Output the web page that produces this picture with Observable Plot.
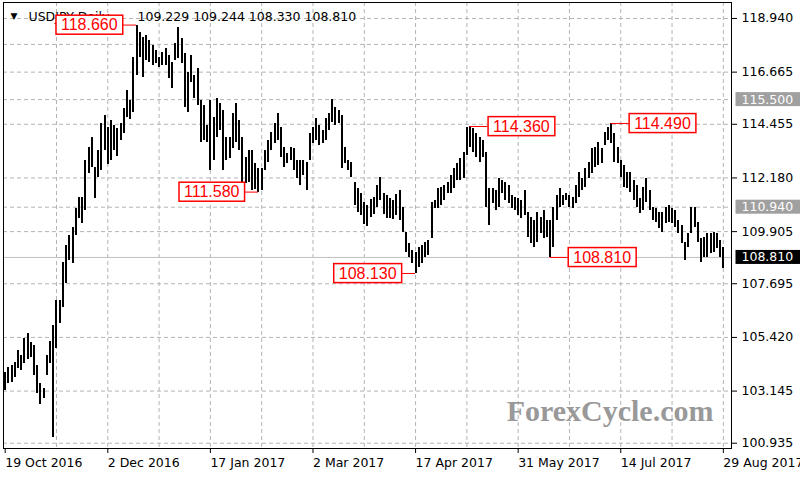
<!DOCTYPE html>
<html><head><meta charset="utf-8">
<script src="https://cdn.jsdelivr.net/npm/d3@7"></script>
<script src="https://cdn.jsdelivr.net/npm/@observablehq/plot@0.6"></script>
<style>
body{margin:0;background:#fff;}
#chart{position:relative;width:800px;height:480px;overflow:hidden;background:#fff;}
</style></head><body><div id="chart"></div>
<script>
const symbol = "USDJPY,Daily";
const highs = [
103.95,104.16,104.23,104.37,104.86,104.65,105.36,105.57,105.22,105.08,
104.23,103.48,103.24,104.65,105.26,105.92,106.98,106.98,108.61,109.32,
109.74,110.09,110.87,111.36,111.35,112.92,113.48,113.91,112.63,113.34,
114.49,114.82,114.32,114.61,114.40,114.27,114.49,115.12,115.89,115.46,
117.29,118.66,118.36,118.14,118.22,118.00,117.79,117.58,117.30,117.51,
117.65,117.37,117.09,117.87,118.57,118.08,117.44,116.66,117.37,116.52,
116.81,115.46,115.25,114.40,115.46,114.75,115.53,115.32,115.04,113.91,
113.91,114.90,115.32,114.61,113.91,113.06,113.34,113.34,112.78,112.57,
112.57,113.34,113.77,114.12,114.47,114.90,114.33,113.48,113.20,113.48,
113.41,112.92,112.92,112.92,112.85,114.05,114.33,114.69,114.40,114.19,
114.69,114.90,115.50,115.18,115.04,114.82,113.48,112.92,112.85,111.99,
111.73,111.52,111.14,111.01,111.27,111.35,111.86,112.20,111.52,111.44,
111.31,111.22,111.48,111.65,110.93,109.87,109.40,109.10,109.02,109.23,
109.31,109.44,109.53,111.14,111.22,111.73,111.77,111.86,111.99,112.28,
112.58,112.79,113.00,113.26,114.32,114.36,114.27,114.06,113.89,113.77,
113.26,111.73,111.73,111.65,112.16,112.07,111.99,111.86,111.44,111.35,
111.31,111.22,111.65,110.71,110.50,110.37,110.71,110.50,110.80,110.37,
110.37,110.93,111.44,111.73,111.44,111.52,111.44,111.35,111.86,112.41,
112.16,112.58,112.83,113.43,113.47,113.68,113.43,114.11,114.32,114.49,
114.06,113.47,112.92,112.71,112.41,112.41,112.07,111.86,111.31,111.77,
112.16,111.65,110.93,110.88,110.71,110.71,110.93,111.01,110.88,110.80,
110.37,110.16,109.44,109.82,110.93,110.93,110.29,109.61,109.65,109.82,
109.82,109.87,109.82,109.53,109.244];
const lows = [
103.17,103.48,103.52,103.73,104.09,104.02,104.30,104.47,104.58,103.80,
103.05,102.58,102.82,103.80,104.30,101.19,104.94,106.00,106.70,107.69,
108.68,108.54,109.74,110.45,110.25,110.80,112.35,112.63,111.29,112.21,
112.49,113.34,112.75,112.92,113.34,113.09,113.77,114.06,114.74,114.66,
114.95,116.52,117.30,116.45,117.16,117.09,116.95,117.02,116.87,116.95,
116.95,116.38,115.96,117.16,117.23,117.02,115.18,114.97,116.24,115.53,
115.25,113.69,113.77,113.68,112.49,112.92,113.91,114.19,112.49,112.92,
112.99,113.41,113.69,113.34,111.93,111.93,112.00,111.65,111.69,111.58,
111.65,112.49,112.85,113.34,113.63,113.77,113.06,112.63,112.78,112.92,
112.49,112.14,111.86,112.28,111.65,112.92,113.63,113.77,113.55,113.63,
113.77,114.19,114.54,114.40,114.47,112.57,112.78,112.49,112.21,111.01,
110.71,110.59,110.21,110.12,110.50,110.63,110.93,111.22,110.63,110.46,
110.46,110.42,110.59,110.37,109.87,109.02,108.81,108.55,108.13,108.38,
108.55,108.81,108.89,109.61,110.88,110.88,111.01,111.22,111.52,111.52,
111.73,112.07,112.07,112.16,113.13,113.47,113.26,113.05,112.83,113.05,
110.93,110.16,111.10,110.80,110.93,111.52,111.22,111.10,110.88,110.80,
110.59,110.46,110.59,109.65,109.40,109.23,109.44,109.82,109.61,109.65,
108.81,109.23,110.37,110.93,111.01,111.22,110.93,110.88,111.10,111.35,
111.65,111.77,112.16,112.37,112.62,112.71,112.79,113.55,113.77,113.64,
112.83,112.79,112.20,111.77,111.73,111.56,111.22,110.93,110.67,110.80,
111.14,110.80,110.37,110.29,110.04,109.87,110.25,110.29,110.25,110.08,
109.82,109.40,108.68,109.23,109.82,110.08,109.44,108.59,108.81,108.81,
108.98,109.02,109.19,108.81,108.33];
const lastOHLC = [109.229, 109.244, 108.330, 108.810];

const dateIdx = [0, 32, 64, 96, 128, 160, 192, 224];
const dateLabels = ["19 Oct 2016","2 Dec 2016","17 Jan 2017","2 Mar 2017","17 Apr 2017","31 May 2017","14 Jul 2017","29 Aug 2017"];
const gridIdx = [16, 32, 48, 64, 80, 96, 112, 128, 144, 160, 176, 192, 208, 224];
const priceTicks = [118.94, 116.665, 114.455, 112.18, 109.905, 107.695, 105.42, 103.145, 100.935];
const gridPrices = [118.94, 117.84, 116.665, 115.5, 114.455, 112.18, 110.94, 109.905, 107.695, 105.42, 103.145, 100.935];
const levelPrices = [115.5, 110.94];
const currentPrice = 108.81;

const annIdx = [41, 79, 128, 145, 189, 170];
const annPrice = [118.66, 111.58, 108.13, 114.36, 114.49, 108.81];
const annSide = ["left", "left", "left", "right", "right", "right"];

const watermark = "ForexCycle.com";

// ---- build ----
const bars = highs.map((h, i) => ({i, high: h, low: lows[i]}));
const ann = annIdx.map((idx, k) => ({idx, price: annPrice[k], side: annSide[k]}));
const annL = ann.filter(d => d.side === "left");
const annR = ann.filter(d => d.side === "right");

const W = 800, H = 480, mL = 3, mR = 69, mT = 2, mB = 32;
const xDomain = [-0.53, 226.54];
const pxPerBar = (W - mL - mR) / (xDomain[1] - xDomain[0]);
const gapL = 14, gapR = 18, pad = 5;
const fmt = d3.format(".3f");
const axisFont = "'DejaVu Sans', Verdana, sans-serif";
const ANN_RED = "#ff0000", LVL_GRAY = "#fefefe", LVL_BLACK = "#ffffff";

const plot = Plot.plot({
  width: W, height: H,
  marginLeft: mL, marginRight: mR, marginTop: mT, marginBottom: mB,
  style: {fontFamily: axisFont, fontSize: "12.5px", color: "black", background: "white", overflow: "visible"},
  x: {type: "linear", domain: xDomain, axis: null},
  y: {domain: [100.711, 119.617], axis: null},
  marks: [
    Plot.ruleY(gridPrices, {stroke: "#b4b4b4", strokeDasharray: "4,3"}),
    Plot.ruleX(gridIdx, {stroke: "#b4b4b4", strokeDasharray: "4,3"}),
    Plot.ruleY([currentPrice], {stroke: "#c0c0c0", strokeWidth: 1}),
    Plot.text([watermark], {frameAnchor: "bottom-right", dx: -18, dy: -37, textAnchor: "end", lineAnchor: "middle",
      fontSize: 30, fontWeight: "bold", fontFamily: "'Liberation Serif', 'DejaVu Serif', serif", fill: "#999"}),
    Plot.ruleX(bars, {x: "i", y1: "low", y2: "high", stroke: "black", strokeWidth: 2, shapeRendering: "crispEdges"}),
    Plot.frame({stroke: "black"}),
    Plot.axisY({anchor: "right", ticks: priceTicks, tickFormat: fmt, tickSize: 5, tickPadding: 5, label: null}),
    Plot.axisX({anchor: "bottom", ticks: dateIdx, tickFormat: d => dateLabels[dateIdx.indexOf(d)], tickSize: 5, tickPadding: 5, textAnchor: "start", label: null}),
    Plot.text(["\u25BC"], {frameAnchor: "top-left", dx: 7, dy: 13.5, fontSize: 9, lineAnchor: "middle", textAnchor: "start"}),
    Plot.text([symbol], {frameAnchor: "top-left", dx: 25, dy: 14.7, textAnchor: "start", lineAnchor: "middle"}),
    Plot.text([lastOHLC.map(fmt).join(" ")], {frameAnchor: "top-left", dx: 134, dy: 14.7, textAnchor: "start", lineAnchor: "middle"}),
    Plot.text(levelPrices, {y: d => d, text: fmt, frameAnchor: "right", dx: 10, textAnchor: "start", lineAnchor: "middle", fill: LVL_GRAY}),
    Plot.text([currentPrice], {y: d => d, text: fmt, frameAnchor: "right", dx: 10, textAnchor: "start", lineAnchor: "middle", fill: LVL_BLACK}),
    Plot.ruleY(ann, {y: "price", x1: "idx", x2: d => d.idx + (d.side === "left" ? -gapL : gapR) / pxPerBar, stroke: ANN_RED, strokeWidth: 1}),
    Plot.text(annL, {x: "idx", y: "price", text: d => fmt(d.price), dx: -(gapL + pad), textAnchor: "end", lineAnchor: "middle",
      fill: ANN_RED, fontSize: 16, fontFamily: "'Liberation Sans', Arial, sans-serif"}),
    Plot.text(annR, {x: "idx", y: "price", text: d => fmt(d.price), dx: gapR + pad, textAnchor: "start", lineAnchor: "middle",
      fill: ANN_RED, fontSize: 16, fontFamily: "'Liberation Sans', Arial, sans-serif"})
  ]
});
document.getElementById("chart").appendChild(plot);

function fillOf(t) {
  let n = t;
  while (n && n !== plot) {
    const f = n.getAttribute && n.getAttribute("fill");
    if (f) return f.toLowerCase();
    n = n.parentNode;
  }
  return null;
}
function addBox(t, o) {
  const b = t.getBBox();
  const r = document.createElementNS("http://www.w3.org/2000/svg", "rect");
  const cy = b.y + b.height / 2;
  r.setAttribute("x", b.x - o.padX);
  r.setAttribute("width", o.width ? o.width : b.width + 2 * o.padX);
  r.setAttribute("y", cy - o.h / 2);
  r.setAttribute("height", o.h);
  r.setAttribute("fill", o.fill);
  r.setAttribute("stroke", o.stroke || "none");
  r.setAttribute("stroke-width", o.sw || 1);
  if (t.getAttribute("transform")) r.setAttribute("transform", t.getAttribute("transform"));
  t.parentNode.insertBefore(r, t);
}
Array.from(plot.querySelectorAll("text")).forEach(t => {
  const f = fillOf(t);
  if (f === ANN_RED) addBox(t, {padX: 5, h: 19, fill: "white", stroke: ANN_RED, sw: 1.5});
  else if (f === LVL_GRAY) addBox(t, {padX: 6, h: 14, fill: "#a0a0a0", width: 80});
  else if (f === LVL_BLACK) addBox(t, {padX: 6, h: 14, fill: "black", width: 80});
});
</script></body></html>
